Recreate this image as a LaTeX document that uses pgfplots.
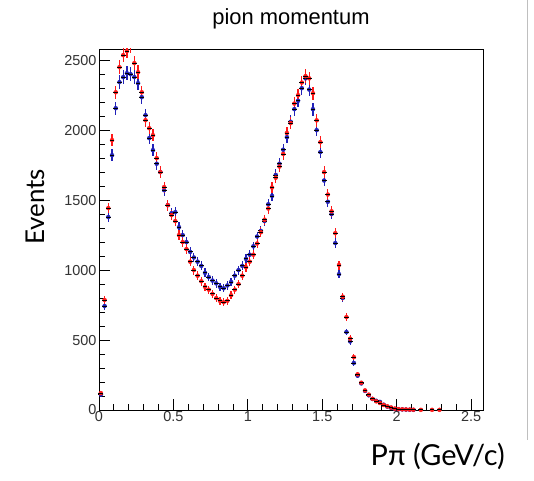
\documentclass[border=0pt]{standalone}
\usepackage{fontspec}
\setmainfont{Liberation Sans}
\newfontfamily\gill{Lato}
\usepackage{pgfplots}
\usepackage{pgfplotstable}
\pgfplotsset{compat=1.18}
\definecolor{rootblue}{rgb}{0.13,0.13,0.72}
\definecolor{rootred}{rgb}{1,0.1,0.1}

\pgfplotstableread{
x y
0.0125 110
0.0375 743
0.0625 1379
0.0875 1821
0.1125 2157
0.1375 2343
0.1625 2379
0.1875 2407
0.2125 2400
0.2375 2379
0.2625 2336
0.2875 2236
0.3125 2107
0.3375 1943
0.3625 1857
0.3875 1760
0.4125 1700
0.4375 1571
0.4625 1464
0.4875 1407
0.5125 1414
0.5375 1307
0.5625 1250
0.5875 1200
0.6125 1130
0.6375 1090
0.6625 1060
0.6875 1030
0.7125 980
0.7375 950
0.7625 925
0.7875 905
0.8125 880
0.8375 870
0.8625 890
0.8875 915
0.9125 960
0.9375 1000
0.9625 1030
0.9875 1080
1.0125 1110
1.0375 1170
1.0625 1240
1.0875 1280
1.1125 1350
1.1375 1470
1.1625 1530
1.1875 1680
1.2125 1760
1.2375 1860
1.2625 1950
1.2875 2060
1.3125 2150
1.3375 2210
1.3625 2300
1.3875 2370
1.4125 2290
1.4375 2150
1.4625 2000
1.4875 1843
1.5125 1640
1.5375 1488
1.5625 1400
1.5875 1193
1.6125 971
1.6375 800
1.6625 557
1.6875 490
1.7125 336
1.7375 245
1.7625 190
1.7875 136
1.8125 105
1.8375 79
1.8625 66
1.8875 58
1.9125 38
1.9375 24
1.9625 15
1.9875 8
2.0125 5
2.0375 4
2.0625 3
2.0875 2
2.1125 1
}\bluedata

\pgfplotstableread{
x y
0.0125 121
0.0375 786
0.0625 1443
0.0875 1929
0.1125 2271
0.1375 2450
0.1625 2536
0.1875 2565
0.2125 2600
0.2375 2479
0.2625 2414
0.2875 2271
0.3125 2071
0.3375 2014
0.3625 1964
0.3875 1800
0.4125 1700
0.4375 1593
0.4625 1464
0.4875 1393
0.5125 1350
0.5375 1250
0.5625 1200
0.5875 1150
0.6125 1060
0.6375 1000
0.6625 960
0.6875 920
0.7125 880
0.7375 860
0.7625 830
0.7875 800
0.8125 780
0.8375 770
0.8625 780
0.8875 820
0.9125 860
0.9375 900
0.9625 960
0.9875 1020
1.0125 1060
1.0375 1110
1.0625 1190
1.0875 1270
1.1125 1360
1.1375 1440
1.1625 1590
1.1875 1660
1.2125 1740
1.2375 1830
1.2625 1980
1.2875 2050
1.3125 2190
1.3375 2250
1.3625 2340
1.3875 2386
1.4125 2370
1.4375 2264
1.4625 2070
1.4875 1914
1.5125 1700
1.5375 1540
1.5625 1420
1.5875 1264
1.6125 1036
1.6375 810
1.6625 664
1.6875 510
1.7125 378
1.7375 255
1.7625 195
1.7875 140
1.8125 110
1.8375 80
1.8625 62
1.8875 50
1.9125 36
1.9375 26
1.9625 18
1.9875 10
2.0125 6
2.0375 5
2.0625 4
2.0875 3
2.1125 2
2.1625 1
2.2375 1
2.2875 1
}\reddata

\begin{document}
\begin{tikzpicture}
\useasboundingbox (0,0) rectangle (534bp,481bp);
\fill[white] (0,0) rectangle (534bp,481bp);
\begin{axis}[
  at={(99bp,71bp)}, anchor=south west,
  width=384bp, height=361bp, scale only axis,
  xmin=0, xmax=2.58, ymin=0, ymax=2580,
  xtick={0,0.5,1,1.5,2,2.5},
  ytick={0,500,1000,1500,2000,2500},
  minor x tick num=4, minor y tick num=4,
  tick align=inside, xtick pos=left, ytick pos=left,
  major tick length=11bp, minor tick length=6bp,
  tick style={black, line width=0.9pt},
  axis line style={line width=0.9pt},
  ticklabel style={font=\fontsize{14.5}{16}\selectfont, text=black!80},
  /pgf/number format/assume math mode=true,
  scaled y ticks=false,
  yticklabel style={/pgf/number format/1000 sep={}, xshift=1bp},
  xticklabel style={yshift=2bp},
  clip=true,
]
% blue series: colored vertical error bars, then black bin markers
\addplot[rootblue, only marks, mark=none,
  error bars/.cd, y dir=both, y explicit, error mark=none,
  error bar style={rootblue, line width=1.2pt}]
  table[x=x, y=y, y error expr=sqrt(\thisrow{y})] {\bluedata};
\addplot[black, only marks, mark=-, mark size=2.4bp,
  mark options={black, line width=0.8pt}]
  table[x=x, y=y] {\bluedata};
% red series
\addplot[rootred, only marks, mark=none,
  error bars/.cd, y dir=both, y explicit, error mark=none,
  error bar style={rootred, line width=1.2pt}]
  table[x=x, y=y, y error expr=sqrt(\thisrow{y})] {\reddata};
\addplot[black, only marks, mark=-, mark size=2.4bp,
  mark options={black, line width=0.8pt}]
  table[x=x, y=y] {\reddata};
\end{axis}
\node[anchor=base, font=\fontsize{22}{24}\selectfont] at (291bp,456bp) {pion momentum};
\node[rotate=90, anchor=center, font=\gill\fontsize{26}{28}\selectfont] at (35bp,274bp) {Events};
\node[anchor=base east, font=\gill\fontsize{29}{31}\selectfont, inner sep=0pt] at (505bp,16bp) {Pπ (GeV/c)};
\draw[black!25, line width=1pt] (527bp,481bp) -- (527bp,41bp);
\end{tikzpicture}
\end{document}
